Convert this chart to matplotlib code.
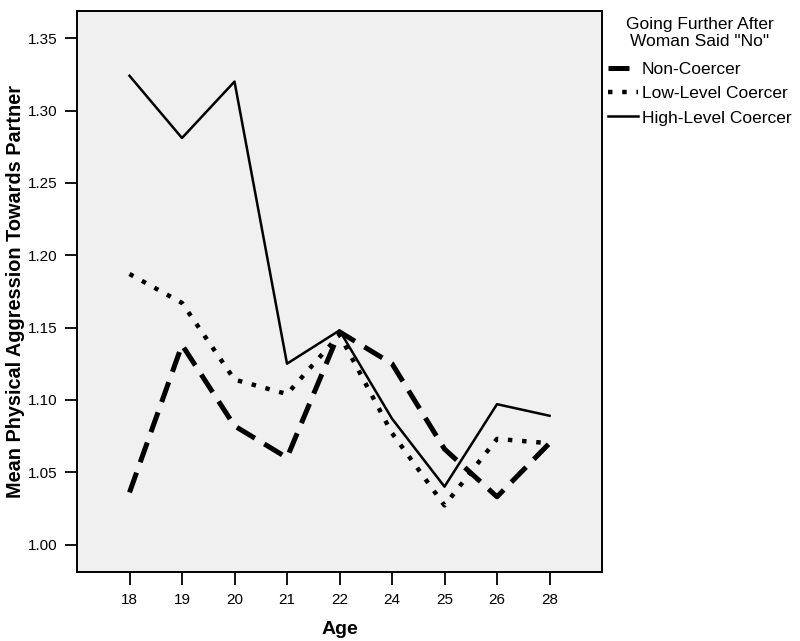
import numpy as np
import matplotlib
matplotlib.use("Agg")
import matplotlib.pyplot as plt

plt.rcParams['font.family'] = ['Liberation Sans', 'DejaVu Sans']

# data
ages = ['18', '19', '20', '21', '22', '24', '25', '26', '28']
non_coercer = [1.036, 1.138, 1.082, 1.060, 1.147, 1.125, 1.066, 1.033, 1.070]
low_level = [1.187, 1.167, 1.114, 1.104, 1.145, 1.077, 1.027, 1.073, 1.070]
high_level = [1.324, 1.281, 1.320, 1.125, 1.148, 1.087, 1.040, 1.097, 1.089]
yticks = [1.00, 1.05, 1.10, 1.15, 1.20, 1.25, 1.30, 1.35]

fig = plt.figure(figsize=(8, 6.41), dpi=100)
ax = fig.add_axes([77/800, 1 - 572/641, (602-77)/800, (572-10.7)/641])
ax.set_facecolor('#f0f0f0')

x = np.arange(len(ages))
ax.plot(x, non_coercer, color='black', lw=3.6, linestyle=(0, (4.2, 2.2)),
        label='Non-Coercer', solid_capstyle='butt', dash_capstyle='butt')
ax.plot(x, low_level, color='black', lw=3.2, linestyle=(0, (1, 2.2)),
        label='Low-Level Coercer', dash_capstyle='butt')
ax.plot(x, high_level, color='black', lw=1.8, linestyle='-',
        label='High-Level Coercer')

ax.set_xlim(-1, 9)
ax.set_ylim(0.981, 1.369)
ax.set_xticks(x)
ax.set_xticklabels(ages)
ax.set_yticks(yticks)
ax.set_yticklabels(['%.2f' % v for v in yticks])
ax.tick_params(axis='both', direction='out', length=9, width=1.3,
               labelsize=11, colors='black', pad=5)
ax.tick_params(axis='x', pad=6)
for s in ax.spines.values():
    s.set_linewidth(1.4)

ax.set_xlabel('Age', fontsize=14, fontweight='bold', labelpad=10)
ax.set_ylabel('Mean Physical Aggression Towards Partner', fontsize=14.3,
              fontweight='bold')
ax.yaxis.set_label_coords((25 - 77) / 525, 0.5)

fig.text(700/800, 1 - 17/641, 'Going Further After\nWoman Said "No"', ha='center',
         va='top', fontsize=12.5, linespacing=1.2)
leg = fig.legend(loc='upper left', bbox_to_anchor=(608/800, 1 - 62/641),
                 frameon=False, fontsize=12.5, handlelength=1.75,
                 handletextpad=0.2, labelspacing=0.52, borderpad=0,
                 borderaxespad=0)

fig.savefig('out.png', dpi=100)
